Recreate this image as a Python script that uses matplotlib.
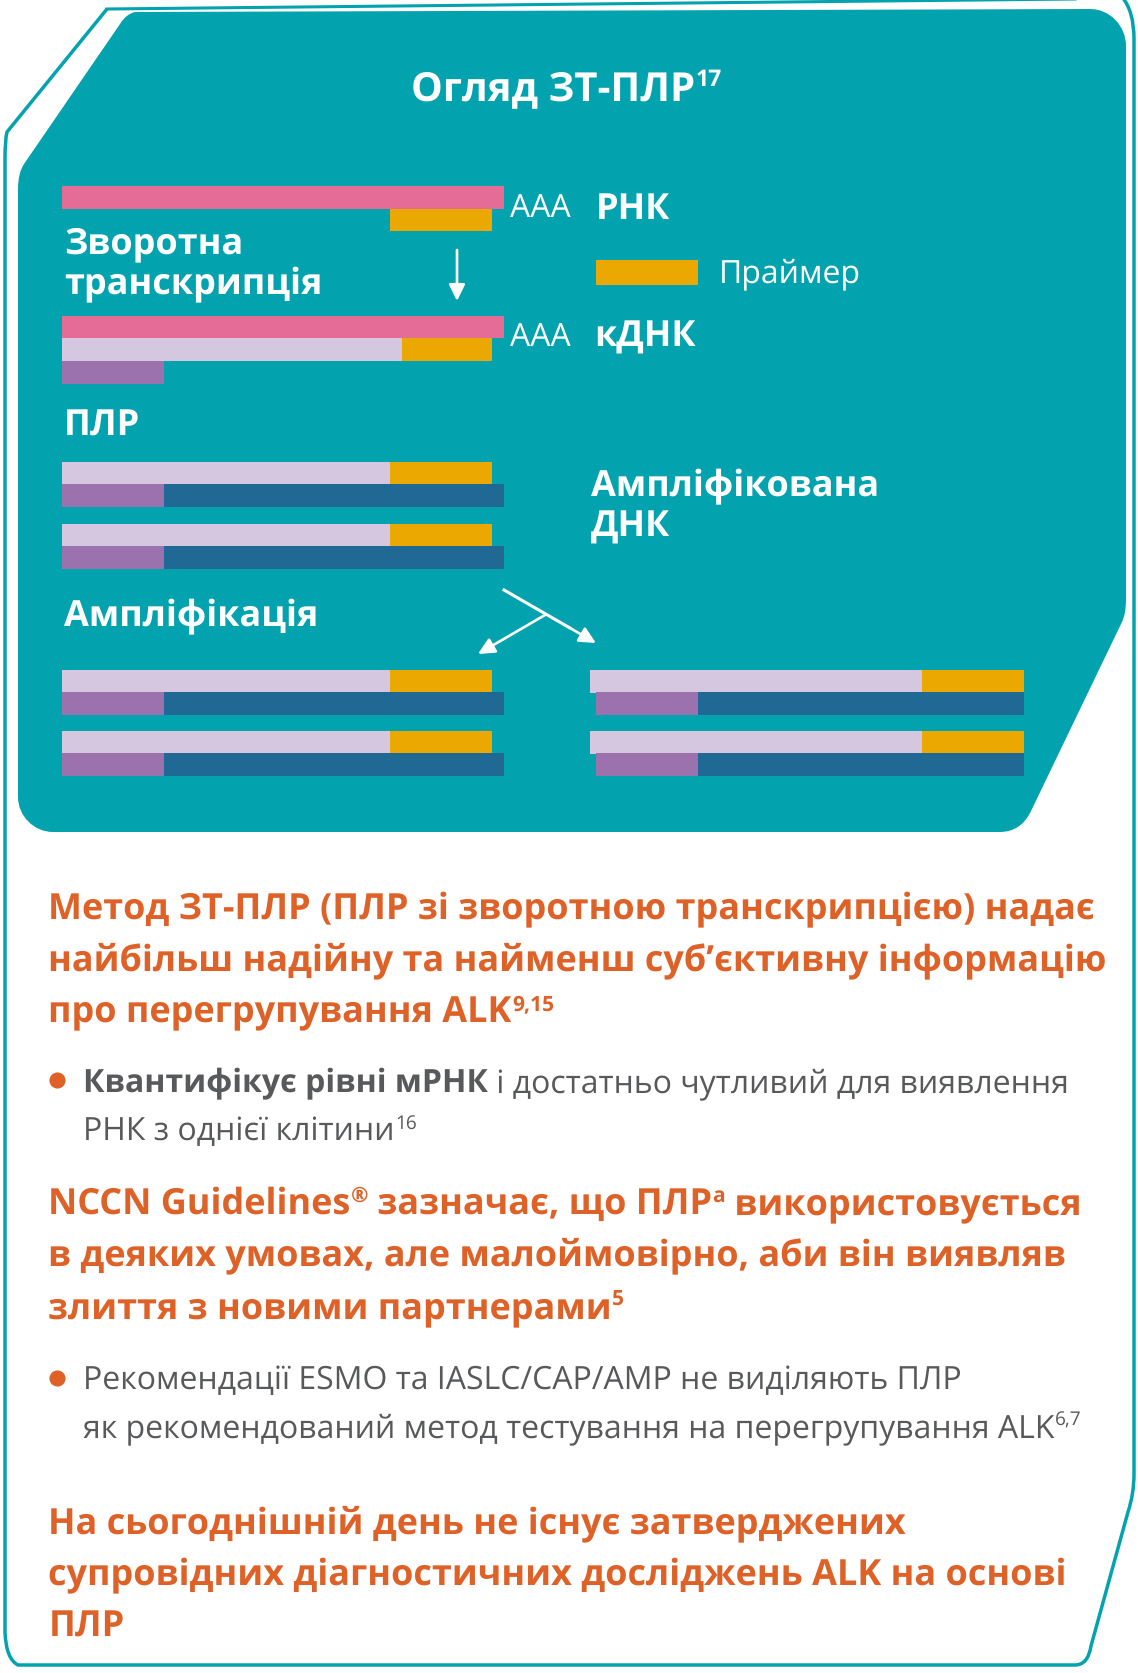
import matplotlib
matplotlib.use("Agg")
import matplotlib.pyplot as plt
from matplotlib.patches import PathPatch
from matplotlib.path import Path

plt.rcParams['font.family'] = ['Open Sans', 'DejaVu Sans']
plt.rcParams['text.hinting'] = 'none'
plt.rcParams['text.hinting_factor'] = 1

TEAL = '#02a3af'
PINK = '#e46c96'
YELLOW = '#eaa800'
LILAC = '#d6c7e0'
PURPLE = '#9c72ae'
BLUE = '#216995'
ORANGE = '#de6228'
GREY = '#58595b'

# strand lengths
full_strand = 442
primer_len = 102
copy_len = 328
cdna_len = 340
cdna_primer_len = 90
tag_len = 102
blue_len = 340
right_copy_len = 332
right_blue_len = 326

title_runs = [('Огляд ЗТ-ПЛР', False), ('17', True)]
heading_1 = [
    [('Метод ЗТ-ПЛР (ПЛР зі зворотною транскрипцією) надає', False)],
    [('найбільш надійну та найменш суб’єктивну інформацію', False)],
    [('про перегрупування ALK', False), ('9,15', True)],
]
body_1 = [
    [('Квантифікує рівні мРНК', 'bold'), (' і достатньо чутливий для виявлення', 'normal')],
    [('РНК з однієї клітини', 'normal'), ('16', 'sup')],
]
heading_2 = [
    [('NCCN Guidelines', False), ('®', True), (' зазначає, що ПЛР', False), ('a', True), (' використовується', False)],
    [('в деяких умовах, але малоймовірно, аби він виявляв', False)],
    [('злиття з новими партнерами', False), ('5', True)],
]
body_2 = [
    [('Рекомендації ESMO та IASLC/CAP/AMP не виділяють ПЛР', 'normal')],
    [('як рекомендований метод тестування на перегрупування ALK', 'normal'), ('6,7', 'sup')],
]
heading_3 = [
    'На сьогоднішній день не існує затверджених',
    'супровідних діагностичних досліджень ALK на основі',
    'ПЛР',
]


def draw_runs(ax, x, y, runs, size, color, sup_size=None, sup_rise=None):
    """Draw text pieces one after the other on a baseline, return the end x."""
    renderer = ax.figure.canvas.get_renderer()
    for text, style in runs:
        is_sup = style is True or style == 'sup'
        bold = style is False or style is True or style == 'bold'
        if style == 'sup':
            bold = False
        t = ax.text(x, y - (sup_rise if is_sup else 0), text,
                    fontsize=sup_size if is_sup else size,
                    fontweight='bold' if bold else 'normal',
                    color=color, ha='left', va='baseline')
        # keep the trailing spaces in the measured width
        w = t.get_window_extent(renderer).width
        if text.endswith(' '):
            w += size * 0.26 / 0.72
        x += w
    return x


def draw_row(ax, y, height, left, lengths, colors):
    start = left
    for length, color in zip(lengths, colors):
        ax.barh(y + 0.5, length, left=start, height=height, color=color, align='edge', linewidth=0)
        start += length


def draw_arrow(ax, start, end):
    ax.annotate('', xy=end, xytext=start,
                arrowprops=dict(arrowstyle='-|>,head_length=0.55,head_width=0.27', color='white',
                                lw=1.9, shrinkA=0, shrinkB=0, mutation_scale=18))


fig = plt.figure(figsize=(11.38, 16.74), dpi=100)
ax = fig.add_axes([0, 0, 1, 1])
ax.set_xlim(0, 1138)
ax.set_ylim(1674, 0)
ax.axis('off')

# teal outline around the whole card
outline = [
    (Path.MOVETO, (107, 10)), (Path.LINETO, (7, 133)), (Path.CURVE3, (5, 140)), (Path.LINETO, (5, 160)),
    (Path.LINETO, (5, 1633)), (Path.CURVE3, (6, 1660)), (Path.LINETO, (18, 1666)),
    (Path.LINETO, (1075, 1666)), (Path.CURVE3, (1088, 1666)), (Path.LINETO, (1091, 1647)),
    (Path.LINETO, (1128, 1513)), (Path.CURVE3, (1134, 1495)), (Path.LINETO, (1134, 1475)),
    (Path.LINETO, (1134, 40)), (Path.CURVE3, (1134, 12)), (Path.LINETO, (1122, -2)),
]
codes, verts = zip(*outline)
ax.add_patch(PathPatch(Path(verts, codes), fc='none', ec=TEAL, lw=2.5))
ax.plot([107, 1075], [10, 0], color=TEAL, lw=2.2)

# teal panel
panel = [
    (Path.MOVETO, (135, 13)), (Path.CURVE3, (126, 15)), (Path.LINETO, (120, 25)),
    (Path.LINETO, (24, 165)), (Path.CURVE3, (18, 174)), (Path.LINETO, (18, 190)),
    (Path.LINETO, (18, 798)), (Path.CURVE4, (18, 817)), (Path.CURVE4, (34, 833)), (Path.CURVE4, (53, 833)),
    (Path.LINETO, (1000, 833)), (Path.CURVE3, (1022, 833)), (Path.LINETO, (1032, 810)),
    (Path.LINETO, (1122, 623)), (Path.CURVE3, (1126, 615)), (Path.LINETO, (1126, 600)),
    (Path.LINETO, (1126, 47)), (Path.CURVE4, (1126, 27)), (Path.CURVE4, (1110, 10)), (Path.CURVE4, (1090, 10)),
    (Path.CLOSEPOLY, (135, 13)),
]
codes, verts = zip(*panel)
ax.add_patch(PathPatch(Path(verts, codes), fc=TEAL, ec='none'))

# RNA with primer
draw_row(ax, 186, 23, 62, [full_strand], [PINK])
draw_row(ax, 209, 22, 62 + copy_len, [primer_len], [YELLOW])
# cDNA
draw_row(ax, 316, 22, 62, [full_strand], [PINK])
draw_row(ax, 338, 23, 62, [cdna_len, cdna_primer_len], [LILAC, YELLOW])
draw_row(ax, 361, 23, 62, [tag_len], [PURPLE])
# legend swatch
draw_row(ax, 260, 25, 596, [primer_len], [YELLOW])
# PCR and amplification pairs, left column
for y in [462, 524, 670, 731]:
    draw_row(ax, y, 23, 62, [copy_len, primer_len], [LILAC, YELLOW])
    draw_row(ax, y + 22.5, 23, 62, [tag_len, blue_len], [PURPLE, BLUE])
# right column
for y in [670, 731]:
    draw_row(ax, y, 23, 590, [right_copy_len, primer_len], [LILAC, YELLOW])
    draw_row(ax, y + 22.5, 23, 596, [tag_len, right_blue_len], [PURPLE, BLUE])

draw_arrow(ax, (457, 251), (457, 302))
ax.plot([504, 570], [591, 629], color='white', lw=2.2)
draw_arrow(ax, (570, 629), (596, 644))
draw_arrow(ax, (545, 616), (478, 655))

fig.canvas.draw()

# panel labels
draw_runs(ax, 411, 100, title_runs, 28.8, 'white', sup_size=16.5, sup_rise=14)
for x, y, s in [(64, 253, 'Зворотна'), (64, 294, 'транскрипція'), (64, 436, 'ПЛР'),
                (64, 626, 'Ампліфікація'), (591, 496, 'Ампліфікована'), (591, 536.5, 'ДНК'),
                (596, 219, 'РНК'), (594.5, 347, 'кДНК')]:
    ax.text(x, y, s, fontsize=26, fontweight='bold', color='white', va='baseline')
for x, y, s, size in [(510.5, 217, 'ААА', 23), (510.5, 346, 'ААА', 23), (719, 282.5, 'Праймер', 23.3)]:
    ax.text(x, y, s, fontsize=size, color='white', va='baseline')

# text block
for y, runs in zip([919, 970, 1022], heading_1):
    draw_runs(ax, 48.5, y, runs, 25.9, ORANGE, sup_size=15, sup_rise=12)
for y, runs in zip([1214, 1265.5, 1318], heading_2):
    draw_runs(ax, 48.5, y, runs, 25.9, ORANGE, sup_size=15, sup_rise=12)
for y, s in zip([1533, 1585, 1637], heading_3):
    ax.text(48.5, y, s, fontsize=25.9, fontweight='bold', color=ORANGE, va='baseline')
for y, runs in zip([1092, 1140], body_1):
    draw_runs(ax, 83.5, y, runs, 23.05, GREY, sup_size=13.5, sup_rise=11)
for y, runs in zip([1389, 1437], body_2):
    draw_runs(ax, 83.5, y, runs, 23.05, GREY, sup_size=13.5, sup_rise=11)

# bullets
ax.scatter([57.5, 57.5], [1080.7, 1379], s=135, color=ORANGE, linewidths=0, zorder=3)

fig.savefig('out.png', dpi=100)
